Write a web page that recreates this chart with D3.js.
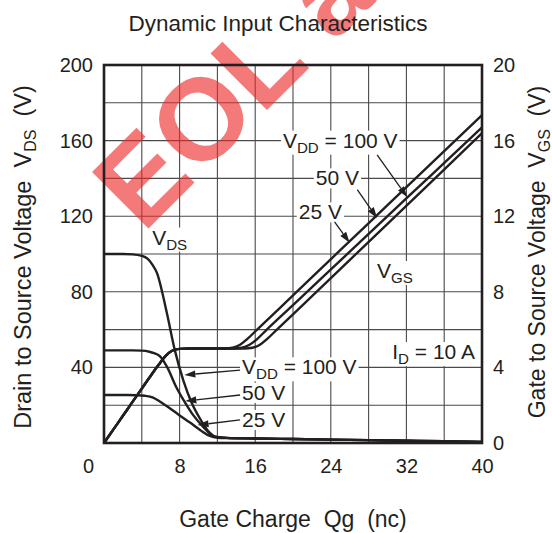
<!DOCTYPE html>
<html>
<head>
<meta charset="utf-8">
<script src="https://cdn.jsdelivr.net/npm/d3@7/dist/d3.min.js"></script>
<style>
body { margin: 0; background: #fff; }
svg text { font-family: "Liberation Sans", Arial, sans-serif; fill: #231f20; white-space: pre; }
</style>
</head>
<body>
<script>
// axis ticks
var qTicks = [0, 8, 16, 24, 32, 40];
var vdsTicks = [40, 80, 120, 160, 200];
var vgsTicks = [0, 4, 8, 12, 16, 20];

// V_DS curves (left axis), gate charge in nC
var vdsQ100 = [0, 2, 3, 4, 4.6, 5.1, 5.6, 6.6, 7.5, 8.4, 9.3, 10.2, 11, 11.8, 13, 16, 20, 24, 28, 32, 36, 40];
var vdsV100 = [100, 100, 99.8, 99, 97.5, 94.5, 90, 70, 49, 33, 21, 12.5, 6.5, 3.4, 2.7, 2.4, 2.1, 1.8, 1.5, 1.2, 0.9, 0.5];
var vdsQ50 = [0, 3, 4, 4.8, 5.3, 5.9, 6.7, 7.6, 8.5, 9.4, 10.5, 11.5, 12.3, 13, 16, 20, 24, 28, 32, 36, 40];
var vdsV50 = [49, 49, 48.9, 48.3, 47.5, 46, 40, 30, 22, 15, 8.5, 3.8, 2.9, 2.7, 2.4, 2.1, 1.8, 1.5, 1.2, 0.9, 0.5];
var vdsQ25 = [0, 2.5, 3.5, 4.3, 5.2, 5.9, 7, 8, 9.1, 10.2, 11.2, 12, 13, 16, 20, 24, 28, 32, 36, 40];
var vdsV25 = [25.4, 25.4, 25.3, 25, 24, 22, 18.3, 14.6, 10.8, 6.8, 3.7, 2.8, 2.6, 2.4, 2.1, 1.8, 1.5, 1.2, 0.9, 0.5];

// V_GS curves (right axis)
var vgsQ25 = [0, 1, 2, 3, 4, 5, 5.8, 6.5, 7.2, 8, 9, 12.8, 13.6, 14.4, 15.2, 16.2, 20, 25, 30, 35, 40];
var vgsV25 = [0, 0.72, 1.44, 2.16, 2.88, 3.6, 4.15, 4.6, 4.88, 4.98, 5, 5, 5.04, 5.2, 5.52, 6.0, 7.81, 10.2, 12.58, 14.97, 17.35];
var vgsQ50 = [0, 1, 2, 3, 4, 5, 5.8, 6.5, 7.2, 8, 9, 13.8, 14.6, 15.4, 16.2, 17.2, 20, 25, 30, 35, 40];
var vgsV50 = [0, 0.72, 1.44, 2.16, 2.88, 3.6, 4.15, 4.6, 4.88, 4.98, 5, 5, 5.04, 5.2, 5.5, 5.99, 7.3, 9.65, 12, 14.35, 16.7];
var vgsQ100 = [0, 1, 2, 3, 4, 5, 5.8, 6.5, 7.2, 8, 9, 14.9, 15.7, 16.5, 17.3, 18.3, 20, 25, 30, 35, 40];
var vgsV100 = [0, 0.72, 1.44, 2.16, 2.88, 3.6, 4.15, 4.6, 4.88, 4.98, 5, 5, 5.04, 5.2, 5.52, 6.0, 6.81, 9.2, 11.6, 13.99, 16.39];

var width = 552, height = 533;
var plot = {left: 104, right: 482, top: 65, bottom: 443};
var ink = "#231f20";

var svg = d3.select("body")
    .append("svg")
    .attr("width", width)
    .attr("height", height);

var x = d3.scaleLinear().domain([0, 40]).range([plot.left, plot.right]),
    yL = d3.scaleLinear().domain([0, 200]).range([plot.bottom, plot.top]),
    yR = d3.scaleLinear().domain([0, 20]).range([plot.bottom, plot.top]);

// grid
svg.append("g")
    .selectAll("line")
    .data(d3.range(4, 40, 4))
    .enter()
    .append("line")
        .attr("x1", function (d) { return x(d); })
        .attr("x2", function (d) { return x(d); })
        .attr("y1", plot.top)
        .attr("y2", plot.bottom)
        .attr("stroke", "#4a4a4a")
        .attr("stroke-width", 1.1);

svg.append("g")
    .selectAll("line")
    .data(d3.range(20, 200, 20))
    .enter()
    .append("line")
        .attr("x1", plot.left)
        .attr("x2", plot.right)
        .attr("y1", function (d) { return yL(d); })
        .attr("y2", function (d) { return yL(d); })
        .attr("stroke", "#4a4a4a")
        .attr("stroke-width", 1.1);

// watermark
svg.append("text")
    .attr("transform", "translate(143,234) rotate(-45)")
    .attr("font-size", 116)
    .attr("font-weight", "bold")
    .style("fill", "#ee2a2a")
    .attr("opacity", 0.62)
    .text("EOL a");

// curves
function drawCurve(qs, vs, yScale) {
    var pts = qs.map(function (q, i) { return [q, vs[i]]; });
    var line = d3.line()
        .x(function (d) { return x(d[0]); })
        .y(function (d) { return yScale(d[1]); })
        .curve(d3.curveMonotoneX);
    svg.append("path")
        .datum(pts)
        .attr("d", line)
        .attr("fill", "none")
        .attr("stroke", ink)
        .attr("stroke-width", 2.4)
        .attr("stroke-linejoin", "round");
}

drawCurve(vdsQ100, vdsV100, yL);
drawCurve(vdsQ50, vdsV50, yL);
drawCurve(vdsQ25, vdsV25, yL);
drawCurve(vgsQ25, vgsV25, yR);
drawCurve(vgsQ50, vgsV50, yR);
drawCurve(vgsQ100, vgsV100, yR);

// border
svg.append("rect")
    .attr("x", plot.left)
    .attr("y", plot.top)
    .attr("width", plot.right - plot.left)
    .attr("height", plot.bottom - plot.top)
    .attr("fill", "none")
    .attr("stroke", ink)
    .attr("stroke-width", 2.6);

// labels with white boxes
var labelLayer = svg.append("g");
function addLabel(px, py, parts, anchor, size) {
    var g = labelLayer.append("g");
    var bg = g.append("rect").attr("fill", "#fff");
    var t = g.append("text")
        .attr("x", px)
        .attr("y", py)
        .attr("font-size", size)
        .attr("text-anchor", anchor);
    parts.forEach(function (p) {
        if (p.sub) {
            t.append("tspan").attr("dy", 5).attr("font-size", size * 0.72).text(p.t);
        } else if (p.after) {
            t.append("tspan").attr("dy", -5).text(p.t);
        } else {
            t.append("tspan").text(p.t);
        }
    });
    var b = t.node().getBBox();
    bg.attr("x", b.x - 2).attr("y", b.y + 2).attr("width", b.width + 4).attr("height", b.height - 3);
}

function arrow(q1, v1, q2, v2, yScale) {
    var x1 = x(q1), y1 = yScale(v1), x2 = x(q2), y2 = yScale(v2);
    var a = Math.atan2(y2 - y1, x2 - x1);
    var len = 11, w = 3.6;
    var bx = x2 - len * Math.cos(a), by = y2 - len * Math.sin(a);
    labelLayer.append("line")
        .attr("x1", x1).attr("y1", y1).attr("x2", bx).attr("y2", by)
        .attr("stroke", ink).attr("stroke-width", 1.3);
    labelLayer.append("path")
        .attr("d", "M" + x2 + "," + y2 +
            "L" + (bx + w * Math.sin(a)) + "," + (by - w * Math.cos(a)) +
            "L" + (bx - w * Math.sin(a)) + "," + (by + w * Math.cos(a)) + "Z")
        .attr("fill", ink);
}

// upper group (V_GS)
addLabel(x(25), yR(16) + 7, [{t: "V"}, {t: "DD", sub: true}, {t: " = 100 V", after: true}], "middle", 21);
addLabel(x(24.7), yR(14) + 7, [{t: "50 V"}], "middle", 21);
addLabel(x(22.9), yR(12.2) + 7, [{t: "25 V"}], "middle", 21);
arrow(28.9, 15.24, 32.1, 13.0, yR);
arrow(26.8, 13.4, 28.9, 11.9, yR);
arrow(24.4, 11.7, 26.0, 10.6, yR);

// lower group (V_DS)
addLabel(x(14.6), yL(40) + 7, [{t: "V"}, {t: "DD", sub: true}, {t: " = 100 V", after: true}], "start", 21);
addLabel(x(14.6), yL(26.5) + 7, [{t: "50 V"}], "start", 21);
addLabel(x(14.6), yL(12.2) + 7, [{t: "25 V"}], "start", 21);
arrow(14.4, 38.6, 8.5, 36, yL);
arrow(14.4, 25.4, 8.6, 22.2, yL);
arrow(14.4, 12.2, 9.9, 9.5, yL);

addLabel(x(5.1), yL(105), [{t: "V"}, {t: "DS", sub: true}], "start", 21);
addLabel(x(28.9), yR(8.73), [{t: "V"}, {t: "GS", sub: true}], "start", 21);
addLabel(x(30.5), yR(4.44), [{t: "I"}, {t: "D", sub: true}, {t: " = 10 A", after: true}], "start", 21);

// axes
var xAxis = svg.append("g")
    .attr("transform", "translate(0," + plot.bottom + ")")
    .call(d3.axisBottom(x).tickValues(qTicks).tickSize(0).tickPadding(16));
var yAxisL = svg.append("g")
    .attr("transform", "translate(" + (plot.left - 1) + ",0)")
    .call(d3.axisLeft(yL).tickValues(vdsTicks).tickSize(0).tickPadding(10));
var yAxisR = svg.append("g")
    .attr("transform", "translate(" + (plot.right + 1) + ",0)")
    .call(d3.axisRight(yR).tickValues(vgsTicks).tickSize(0).tickPadding(10));

[xAxis, yAxisL, yAxisR].forEach(function (ax) {
    ax.select(".domain").remove();
    ax.attr("font-family", null).attr("font-size", 20);
    ax.selectAll("text").style("fill", ink);
});
xAxis.selectAll(".tick text")
    .attr("dx", function (d) { return d === 0 ? -16 : 0; });

// titles
svg.append("text")
    .attr("x", 278)
    .attr("y", 31)
    .attr("text-anchor", "middle")
    .attr("font-size", 22.5)
    .text("Dynamic Input Characteristics");

svg.append("text")
    .attr("x", (plot.left + plot.right) / 2)
    .attr("y", 527)
    .attr("text-anchor", "middle")
    .attr("font-size", 23)
    .text("Gate Charge  Qg  (nc)");

var tl = svg.append("text")
    .attr("transform", "translate(31,257) rotate(-90)")
    .attr("text-anchor", "middle")
    .attr("font-size", 23.5);
tl.append("tspan").text("Drain to Source Voltage  V");
tl.append("tspan").attr("dy", 5).attr("font-size", 16).text("DS");
tl.append("tspan").attr("dy", -5).text("  (V)");

var tr = svg.append("text")
    .attr("transform", "translate(545,252) rotate(-90)")
    .attr("text-anchor", "middle")
    .attr("font-size", 23);
tr.append("tspan").text("Gate to Source Voltage  V");
tr.append("tspan").attr("dy", 5).attr("font-size", 16).text("GS");
tr.append("tspan").attr("dy", -5).text("  (V)");
</script>
</body>
</html>
